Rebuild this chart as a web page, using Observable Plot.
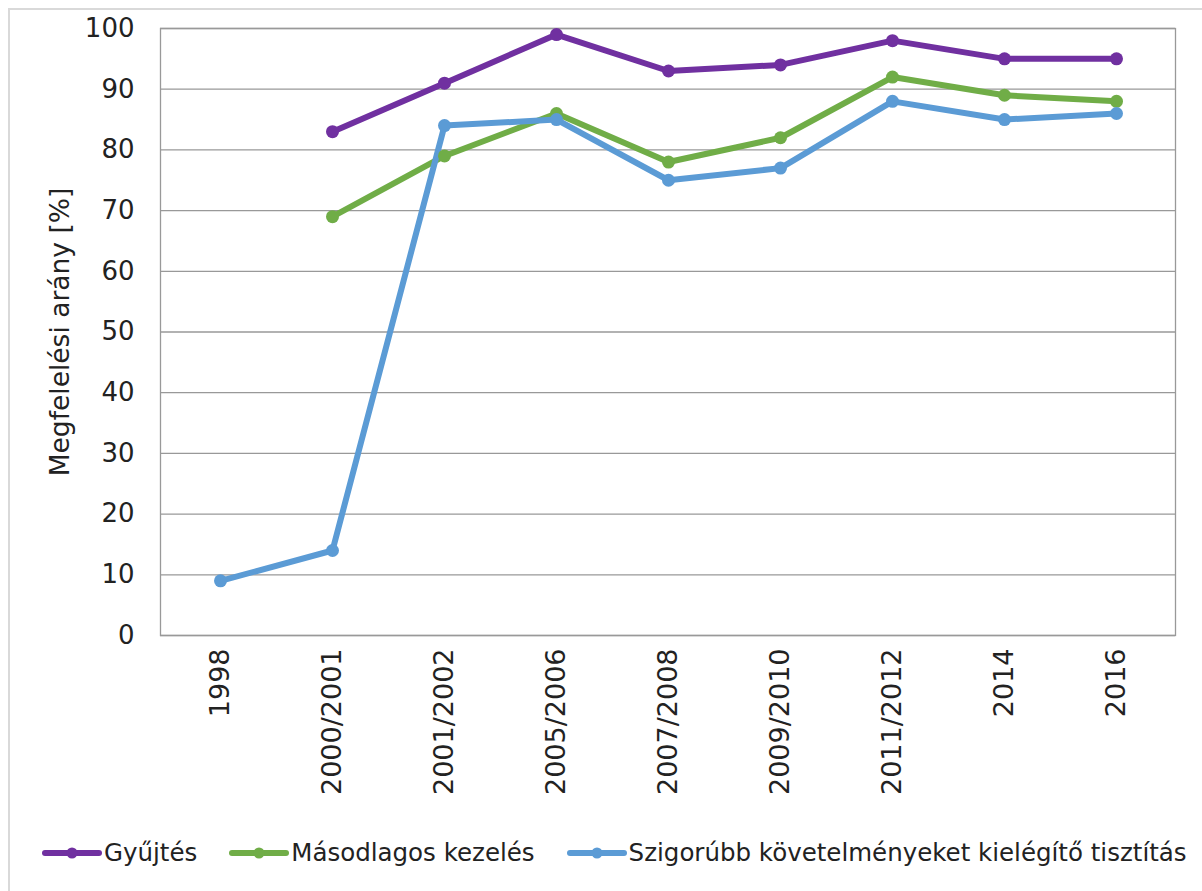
<!DOCTYPE html>
<html>
<head>
<meta charset="utf-8">
<script src="https://cdn.jsdelivr.net/npm/d3@7"></script>
<script src="https://cdn.jsdelivr.net/npm/@observablehq/plot@0.6"></script>
<style>
  html, body { margin: 0; padding: 0; background: #fff; }
  #wrap { position: relative; width: 1202px; height: 891px; overflow: hidden; font-family: "DejaVu Sans", Verdana, sans-serif; }
  #frame { position: absolute; left: 8px; top: 8px; width: 1300px; height: 1000px; border-left: 2px solid #d9d9d9; border-top: 2px solid #d9d9d9; box-sizing: border-box; }
  #chart { position: absolute; left: 0; top: 0; }
  #legend { position: absolute; left: 42px; top: 838px; display: flex; align-items: center; font-size: 24.5px; color: #222; white-space: nowrap; }
  .item { display: flex; align-items: center; margin-right: 32px; }
  .item svg { margin-right: 2px; }
</style>
</head>
<body>
<div id="wrap">
  <div id="frame"></div>
  <div id="chart"></div>
  <div id="legend"></div>
</div>
<script>
const periods = ["1998", "2000/2001", "2001/2002", "2005/2006", "2007/2008", "2009/2010", "2011/2012", "2014", "2016"];
const seriesNames = ["Gyűjtés", "Másodlagos kezelés", "Szigorúbb követelményeket kielégítő tisztítás"];
const seriesColors = ["#7030A0", "#70AD47", "#5B9BD5"];
const gyujtes =     [null, 83, 91, 99, 93, 94, 98, 95, 95];
const masodlagos =  [null, 69, 79, 86, 78, 82, 92, 89, 88];
const szigorubb =   [9, 14, 84, 85, 75, 77, 88, 85, 86];
const yTicks = [0, 10, 20, 30, 40, 50, 60, 70, 80, 90, 100];

const allSeries = [gyujtes, masodlagos, szigorubb];
const data = [];
allSeries.forEach((vals, si) => {
  vals.forEach((v, i) => {
    if (v != null) data.push({period: periods[i], value: v, series: seriesNames[si]});
  });
});

const plot = Plot.plot({
  width: 1202,
  height: 820,
  marginLeft: 160,
  marginRight: 27,
  marginTop: 28,
  marginBottom: 185,
  style: { fontFamily: "DejaVu Sans, Verdana, sans-serif", fontSize: "26px", color: "#222", background: "transparent" },
  x: { type: "point", domain: periods, padding: 0.5, label: null, tickSize: 0, tickRotate: -90, tickPadding: 13 },
  y: { domain: [0, 100], ticks: yTicks, label: null, tickSize: 0, tickPadding: 26 },
  color: { domain: seriesNames, range: seriesColors },
  marks: [
    Plot.gridY(yTicks, { stroke: "#999999", strokeOpacity: 1, strokeWidth: 1.3 }),
    Plot.frame({ stroke: "#999999", strokeWidth: 1.3 }),
    Plot.line(data, { x: "period", y: "value", stroke: "series", z: "series", strokeWidth: 6, strokeLinejoin: "round", strokeLinecap: "round" }),
    Plot.dot(data, { x: "period", y: "value", fill: "series", r: 6.5 }),
    Plot.axisY({ ticks: yTicks, tickSize: 0, tickPadding: 26, fontSize: 26, label: null }),
    Plot.axisX({ tickSize: 0, tickRotate: -90, tickPadding: 13, fontSize: 27, label: null }),
    Plot.text(["Megfelelési arány [%]"], { frameAnchor: "left", textAnchor: "middle", dx: -100, rotate: -90, fontSize: 26.5, fill: "#222" })
  ]
});
document.getElementById("chart").appendChild(plot);

const legend = document.getElementById("legend");
seriesNames.forEach((name, i) => {
  const item = document.createElement("div");
  item.className = "item";
  item.innerHTML = `<svg width="60" height="14"><line x1="3" y1="7" x2="57" y2="7" stroke="${seriesColors[i]}" stroke-width="6" stroke-linecap="round"/><circle cx="30" cy="7" r="5.5" fill="${seriesColors[i]}"/></svg><span>${name}</span>`;
  legend.appendChild(item);
});
</script>
</body>
</html>
